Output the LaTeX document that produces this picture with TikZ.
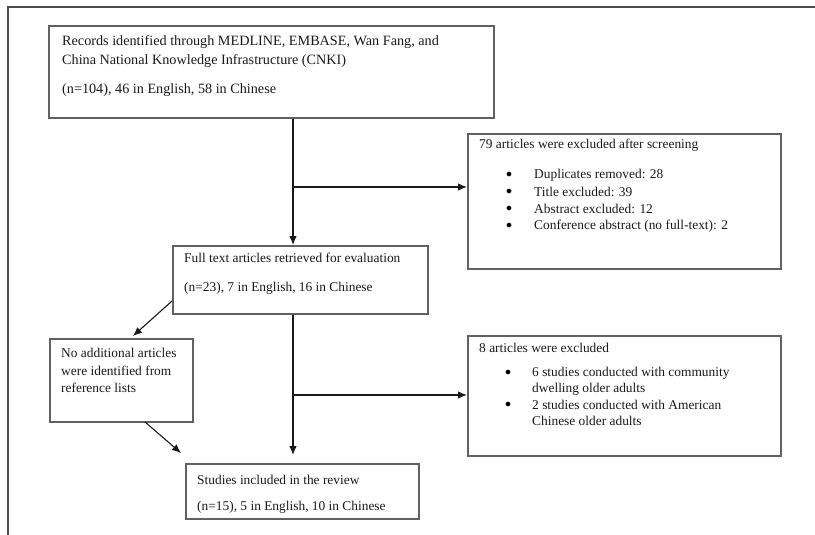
\documentclass[tikz,border=0pt]{standalone}
\usepackage{fontspec}
\setmainfont{Liberation Serif}
\usetikzlibrary{arrows.meta,calc}
\begin{document}
\begin{tikzpicture}[x=1pt,y=-1pt,
  boxst/.style={draw=black!62,line width=1.6pt,rectangle,inner sep=0pt,anchor=north west},
  txt/.style={font=\fontsize{13.4}{15}\selectfont,text=black!90,anchor=west,inner sep=0pt},
  bigtxt/.style={txt,font=\fontsize{14.2}{16}\selectfont},
  bul/.style={font=\fontsize{13}{15}\selectfont,text=black,anchor=west,inner sep=0pt},
  con/.style={draw=black!90,line width=1.1pt},
  arr/.style={con,-{Latex[length=9pt,width=7.5pt]}},
  frame/.style={draw=black!70,line width=1.8pt}]
\useasboundingbox (0,0) rectangle (815,535);
% outer frame (partial)
\coordinate (fa) at (8,535);
\coordinate (fb) at (8,7);
\coordinate (fc) at (815,7);
\draw[frame] (fa) -- (fb) -- (fc);
% boxes
\node[boxst,minimum width=445pt,minimum height=92pt] (b1) at (48,25) {};
\node[boxst,minimum width=313pt,minimum height=135pt] (b2) at (467,133) {};
\node[boxst,minimum width=255pt,minimum height=68pt] (b3) at (172,245) {};
\node[boxst,minimum width=143pt,minimum height=83pt] (b4) at (49,338) {};
\node[boxst,minimum width=313pt,minimum height=120pt] (b5) at (467,335) {};
\node[boxst,minimum width=233pt,minimum height=55pt] (b6) at (185,463) {};
% texts box1
\node[bigtxt] (t1a) at (62,42) {Records identified through MEDLINE, EMBASE, Wan Fang, and};
\node[bigtxt] (t1b) at (62,61) {China National Knowledge Infrastructure (CNKI)};
\node[bigtxt] (t1c) at (62,90) {(n=104), 46 in English, 58 in Chinese};
% box2
\node[txt] (t2a) at (479,145) {79 articles were excluded after screening};
\node[bul] (t2b1) at (506,175) {$\bullet$};
\node[txt] (t2b) at (534,175) {Duplicates removed: 28};
\node[bul] (t2c1) at (506,192) {$\bullet$};
\node[txt] (t2c) at (534,192) {Title excluded: 39};
\node[bul] (t2d1) at (506,209) {$\bullet$};
\node[txt] (t2d) at (534,209) {Abstract excluded: 12};
\node[bul] (t2e1) at (506,226) {$\bullet$};
\node[txt] (t2e) at (534,226) {Conference abstract (no full-text): 2};
% box3
\node[txt] (t3a) at (184,258) {Full text articles retrieved for evaluation};
\node[txt] (t3b) at (184,288) {(n=23), 7 in English, 16 in Chinese};
% box4
\node[txt] (t4a) at (61,353) {No additional articles};
\node[txt] (t4b) at (61,370.5) {were identified from};
\node[txt] (t4c) at (61,388) {reference lists};
% box5
\node[txt] (t5a) at (479,348) {8 articles were excluded};
\node[bul] (t5b1) at (505,373) {$\bullet$};
\node[txt] (t5b) at (532,373) {6 studies conducted with community};
\node[txt] (t5c) at (532,389) {dwelling older adults};
\node[bul] (t5d1) at (505,405) {$\bullet$};
\node[txt] (t5d) at (532,405) {2 studies conducted with American};
\node[txt] (t5e) at (532,421) {Chinese older adults};
% box6
\node[txt] (t6a) at (197,480) {Studies included in the review};
\node[txt] (t6b) at (197,507) {(n=15), 5 in English, 10 in Chinese};
% connectors
\coordinate (j1) at (293,187);
\coordinate (j2) at (293,395);
\draw[arr] (b1.south -| j1) -- (b3.north -| j1);
\draw[arr] (j1) -- (j1 -| b2.west);
\draw[arr,shorten >=8pt] (b3.south -| j2) -- (b6.north -| j2);
\draw[arr] (j2) -- (j2 -| b5.west);
\coordinate (d1) at (172,301);
\coordinate (d2) at (133,336);
\draw[arr] (d1) -- (d2);
\coordinate (d3) at (145,422);
\coordinate (d4) at (181,453);
\draw[arr] (d3) -- (d4);
\end{tikzpicture}
\end{document}
